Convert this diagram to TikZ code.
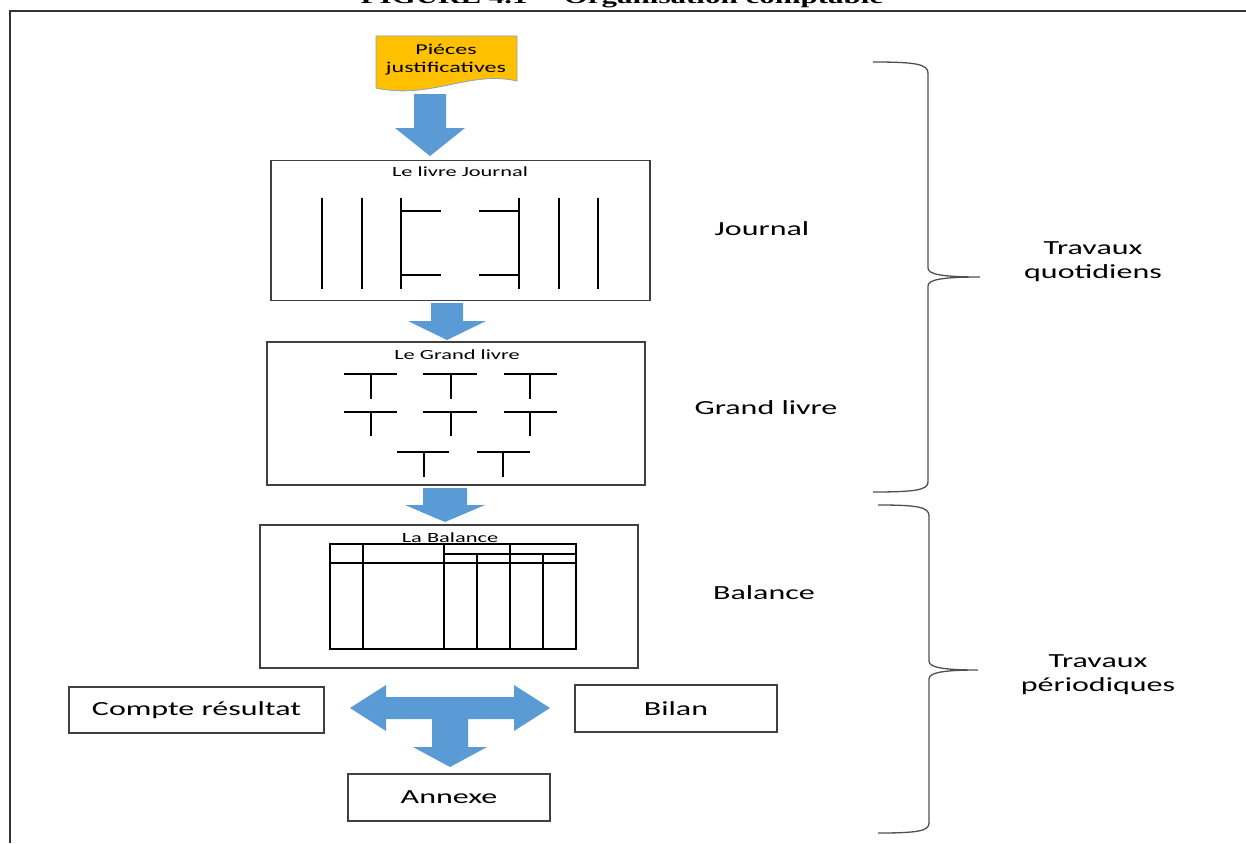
\documentclass[tikz,border=0pt]{standalone}
\usepackage{fontspec}
\setmainfont{Carlito}
\newfontfamily\lab[FakeStretch=1.6]{Carlito}
\newfontfamily\ttl[FakeStretch=1.55]{Liberation Serif}
\definecolor{arrblue}{HTML}{5B9BD5}
\definecolor{docyel}{HTML}{FFC000}
\definecolor{docedge}{HTML}{8EA4B8}
\definecolor{boxedge}{HTML}{404040}
\definecolor{braceg}{HTML}{505050}
\begin{document}
\begin{tikzpicture}[x=1pt,y=-1pt,
  frame/.style={draw=black!80,line width=2.4pt},
  panel/.style={draw=boxedge,line width=1.2pt,inner sep=0pt},
  outbox/.style={draw=boxedge,line width=1.2pt,inner sep=0pt,font=\lab\fontsize{20}{24}\selectfont},
  paneltitle/.style={font=\lab\fontsize{14}{16}\selectfont,inner sep=0pt},
  sidelabel/.style={font=\lab\fontsize{20}{24}\selectfont,inner sep=0pt,align=center},
  grid/.style={draw=black,line width=1.2pt},
  blockarrow/.style={fill=arrblue,draw=none},
  bracestyle/.style={draw=braceg,line width=1.3pt}]
\useasboundingbox (0,0) rectangle (1246,843);
\fill[white] (0,0) rectangle (1246,843);
% title (cut at top)
\node[anchor=base,inner sep=0pt,font=\ttl\bfseries\fontsize{20}{22}\selectfont] (title) at (622,4) {FIGURE 4.1 -- Organisation comptable};
% frame
\draw[frame] (10,843) -- (10,11) -- (1246,11);
% pieces justificatives (document shape)
\filldraw[fill=docyel,draw=docedge,line width=0.8pt] (376,36) -- (517,36) -- (517,81)
  .. controls (470,70) and (430,100) .. (376,88) -- cycle;
\node[font=\lab\fontsize{15}{18}\selectfont,align=center,inner sep=0pt] (pieces) at (446,60) {Piéces\\justificatives};
% arrow 1
\fill[blockarrow] (414,94) -- (446,94) -- (446,128) -- (465,128) -- (430,156) -- (395,128) -- (414,128) -- cycle;
% Journal panel
\node[panel,minimum width=379pt,minimum height=140pt] (journal) at (460.5,230.5) {};
\node[paneltitle] (jtitle) at (460,172) {Le livre Journal};
\foreach \x in {322,362,401,519,559,598} \draw[grid] (\x,198) -- (\x,289);
\draw[grid] (401,211) -- (441,211);
\draw[grid] (401,275) -- (441,275);
\draw[grid] (479,211) -- (519,211);
\draw[grid] (479,275) -- (519,275);
% arrow 2
\fill[blockarrow] (431,303) -- (463,303) -- (463,321) -- (486,321) -- (447,340) -- (408,321) -- (431,321) -- cycle;
% Grand livre panel
\node[panel,minimum width=378pt,minimum height=143pt] (grand) at (456,413.5) {};
\node[paneltitle] (gtitle) at (457,355) {Le Grand livre};
\foreach \a/\b/\s in {344/397/371,423/477/451,504/557/530} {
  \draw[grid] (\a,374) -- (\b,374); \draw[grid] (\s,374) -- (\s,399);
  \draw[grid] (\a,412) -- (\b,412); \draw[grid] (\s,412) -- (\s,436);
}
\foreach \a/\b/\s in {397/449/424,477/530/503} {
  \draw[grid] (\a,452) -- (\b,452); \draw[grid] (\s,452) -- (\s,477);
}
% arrow 3
\fill[blockarrow] (423,488) -- (467,488) -- (467,505) -- (485,505) -- (445,522) -- (405,505) -- (423,505) -- cycle;
% Balance panel
\node[panel,minimum width=378pt,minimum height=143pt] (balance) at (449,596.5) {};
\node[paneltitle] (btitle) at (450,538) {La Balance};
\draw[grid] (330,544) rectangle (576,649);
\draw[grid] (330,563) -- (576,563);
\draw[grid] (444,554) -- (576,554);
\foreach \x in {363,444,510} \draw[grid] (\x,544) -- (\x,649);
\foreach \x in {477,543} \draw[grid] (\x,554) -- (\x,649);
% side labels
\node[sidelabel] (ljournal) at (762,229) {Journal};
\node[sidelabel] (lgrand) at (766,408) {Grand livre};
\node[sidelabel] (lbalance) at (764,593) {Balance};
% braces
\draw[bracestyle] (873,62) .. controls (915,62) and (928,64) .. (928,73) -- (928,268)
  .. controls (928,274) and (940,277) .. (980,277)
  .. controls (940,277) and (928,280) .. (928,286) -- (928,482)
  .. controls (928,490) and (915,492) .. (873,492);
\draw[bracestyle] (878,505) .. controls (918,505) and (929,507) .. (929,516) -- (929,661)
  .. controls (929,667) and (941,670) .. (978,670)
  .. controls (941,670) and (929,673) .. (929,679) -- (929,823)
  .. controls (929,831) and (918,833) .. (878,833);
\node[sidelabel] (quot) at (1093,262) {Travaux\\quotidiens};
\node[sidelabel] (perio) at (1098,675) {Travaux\\périodiques};
% bottom boxes
\node[outbox,minimum width=255pt,minimum height=46pt] (compte) at (196.5,710) {Compte résultat};
\node[outbox,minimum width=202pt,minimum height=47pt] (bilan) at (676,708.5) {Bilan};
\node[outbox,minimum width=202pt,minimum height=47pt] (annexe) at (449,797.5) {Annexe};
% T arrow
\fill[blockarrow] (350,708) -- (386,685) -- (386,697) -- (514,697) -- (514,685) -- (550,708)
  -- (514,731) -- (514,719) -- (468,719) -- (468,747) -- (487,747) -- (450,767)
  -- (413,747) -- (432,747) -- (432,719) -- (386,719) -- (386,731) -- cycle;
\end{tikzpicture}
\end{document}
